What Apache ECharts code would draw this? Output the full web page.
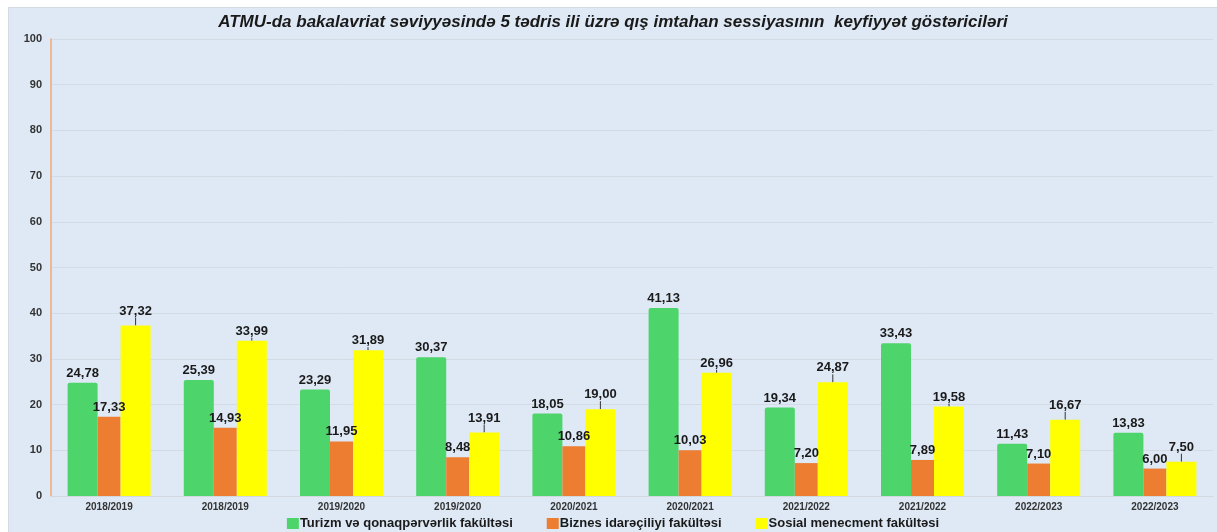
<!DOCTYPE html>
<html>
<head>
<meta charset="utf-8">
<script src="https://cdn.jsdelivr.net/npm/echarts@6/dist/echarts.min.js"></script>
<style>
body { margin: 0; background: #fff; }
#main {
    position: absolute; left: 8px; top: 7px;
    width: 1209px; height: 525px;
    background: #dee9f5;
    border-top: 1px solid #d4dae2; border-left: 1px solid #d4dae2;
    box-sizing: border-box;
}
</style>
</head>
<body>
<div id="main"></div>
<script>
// tədris illəri
var categories = ['2018/2019', '2018/2019', '2019/2020', '2019/2020', '2020/2021',
    '2020/2021', '2021/2022', '2021/2022', '2022/2023', '2022/2023'];
var turizm = [24.78, 25.39, 23.29, 30.37, 18.05, 41.13, 19.34, 33.43, 11.43, 13.83];
var biznes = [17.33, 14.93, 11.95, 8.48, 10.86, 10.03, 7.20, 7.89, 7.10, 6.00];
var sosial = [37.32, 33.99, 31.89, 13.91, 19.00, 26.96, 24.87, 19.58, 16.67, 7.50];
// yellow labels that are pulled up with a small leader line
var sosialMoved = [0, 3, 4, 6, 8, 9];

var chart = echarts.init(document.getElementById('main'));

function fmt(p) {
    return p.value.toFixed(2).replace('.', ',');
}
var labelStyle = {
    show: true,
    position: 'top',
    distance: 3,
    formatter: fmt,
    color: '#1a1a1a',
    fontWeight: 'bold',
    fontSize: 13,
    fontFamily: 'Liberation Sans, Arial'
};

var option = {
    title: {
        text: 'ATMU-da bakalavriat səviyyəsində 5 tədris ili üzrə qış imtahan sessiyasının  keyfiyyət göstəriciləri',
        left: 'center',
        top: 1,
        textStyle: {
            fontSize: 17,
            fontWeight: 'bold',
            fontStyle: 'italic',
            color: '#1a1a1a',
            fontFamily: 'Liberation Sans, Arial'
        }
    },
    legend: {
        bottom: 2,
        left: 'center',
        padding: [0, 5, 0, 5],
        itemWidth: 12,
        itemHeight: 11,
        itemGap: 34,
        icon: 'rect',
        textStyle: {
            fontSize: 13,
            fontWeight: 'bold',
            color: '#1a1a1a',
            fontFamily: 'Liberation Sans, Arial',
            padding: [0, 0, 0, -4]
        }
    },
    grid: {
        left: 42,
        right: 4,
        top: 31,
        bottom: 36
    },
    xAxis: {
        type: 'category',
        data: categories,
        axisLine: { lineStyle: { color: '#d3d8de' } },
        axisTick: { show: false },
        axisLabel: {
            margin: 6,
            fontSize: 10,
            fontWeight: 'bold',
            color: '#333',
            fontFamily: 'Liberation Sans, Arial'
        }
    },
    yAxis: {
        type: 'value',
        min: 0,
        max: 100,
        interval: 10,
        axisLine: { show: true, lineStyle: { color: '#f2a874', width: 1.5 } },
        axisTick: { show: false },
        splitLine: { lineStyle: { color: '#d3dbe5' } },
        axisLabel: {
            margin: 9,
            fontSize: 11,
            fontWeight: 'bold',
            color: '#333',
            fontFamily: 'Liberation Sans, Arial'
        }
    },
    series: [
        {
            name: 'Turizm və qonaqpərvərlik fakültəsi',
            type: 'bar',
            data: turizm,
            barWidth: 30,
            barGap: '0%',
            itemStyle: { color: '#4dd46b', borderRadius: [2, 2, 0, 0] },
            label: labelStyle
        },
        {
            name: 'Biznes idarəçiliyi fakültəsi',
            type: 'bar',
            data: biznes,
            barWidth: 23,
            barGap: '0%',
            itemStyle: { color: '#ed7d31' },
            label: labelStyle
        },
        {
            name: 'Sosial menecment fakültəsi',
            type: 'bar',
            data: sosial,
            barWidth: 30,
            barGap: '0%',
            itemStyle: { color: '#ffff00' },
            label: labelStyle,
            labelLine: { show: true, lineStyle: { color: '#333', width: 1 } },
            labelLayout: function (params) {
                if (sosialMoved.indexOf(params.dataIndex) >= 0) {
                    return { dy: -5 };
                }
                return {};
            }
        }
    ]
};

chart.setOption(option);
</script>
</body>
</html>
